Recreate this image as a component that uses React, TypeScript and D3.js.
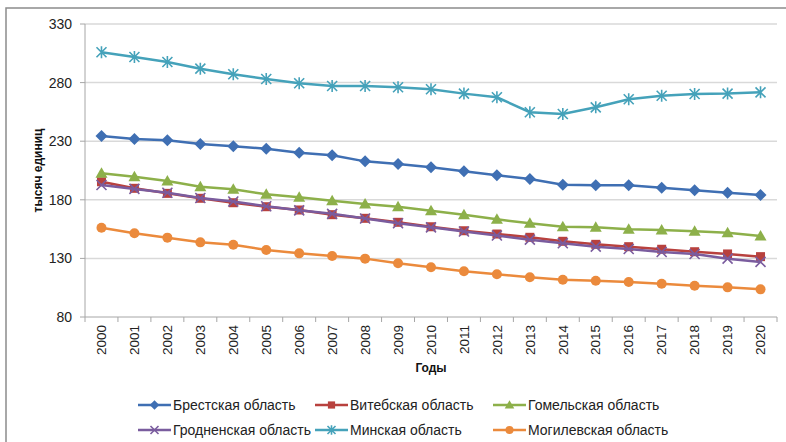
import * as React from 'react';
import * as d3 from 'd3';

const years = ['2000', '2001', '2002', '2003', '2004', '2005', '2006', '2007', '2008', '2009', '2010',
  '2011', '2012', '2013', '2014', '2015', '2016', '2017', '2018', '2019', '2020'];

const brest = [234.4, 231.9, 230.8, 227.6, 225.6, 223.6, 220.2, 218.0, 212.8, 210.6, 207.7,
  204.3, 200.9, 197.7, 192.9, 192.4, 192.4, 190.3, 188.1, 186.0, 184.1];
const vitebsk = [195.4, 189.8, 185.5, 181.3, 177.5, 174.1, 171.3, 167.3, 164.2, 160.8, 157.0,
  153.6, 150.8, 148.0, 144.6, 142.0, 140.0, 137.8, 135.7, 133.8, 131.5];
const gomel = [202.6, 199.7, 196.0, 191.2, 189.0, 184.7, 182.1, 179.2, 176.4, 174.1, 170.7,
  167.3, 163.4, 159.9, 157.0, 156.5, 154.8, 154.2, 153.1, 151.9, 149.1];
const grodno = [192.6, 189.3, 186.0, 181.5, 178.5, 174.5, 171.0, 168.0, 164.0, 160.0, 156.5,
  153.0, 149.5, 146.0, 142.9, 140.0, 138.0, 135.5, 133.8, 129.8, 127.0];
const minsk = [305.9, 301.8, 297.6, 291.9, 287.1, 283.1, 279.4, 277.1, 277.1, 276.0, 274.3,
  270.6, 267.5, 254.7, 253.2, 258.9, 265.8, 268.8, 270.3, 270.6, 271.7];
const mogilev = [156.2, 151.4, 147.7, 143.7, 141.7, 137.2, 134.3, 132.0, 129.8, 125.8, 122.4,
  119.0, 116.4, 113.9, 111.8, 111.0, 109.9, 108.4, 106.7, 105.3, 103.6];

const yTicks = [80, 130, 180, 230, 280, 330];

const series = [
  { name: 'Брестская область', values: brest, color: '#3F6FB3', marker: 'diamond' },
  { name: 'Витебская область', values: vitebsk, color: '#B8413E', marker: 'square' },
  { name: 'Гомельская область', values: gomel, color: '#8DB04A', marker: 'triangle' },
  { name: 'Гродненская область', values: grodno, color: '#7A5C9E', marker: 'x' },
  { name: 'Минская область', values: minsk, color: '#45A2BA', marker: 'star' },
  { name: 'Могилевская область', values: mogilev, color: '#EB8A3C', marker: 'circle' },
];

const W = 786;
const H = 442;
const left = 85;
const right = 777;
const top = 24;
const bottom = 317;
const font = '"Liberation Sans", Arial, sans-serif';

const Marker = ({ type, x, y, color, s = 1 }) => {
  if (type === 'diamond') {
    return <path d={`M${x},${y - 6 * s}L${x + 6 * s},${y}L${x},${y + 6 * s}L${x - 6 * s},${y}Z`} fill={color} />;
  }
  if (type === 'square') {
    return <rect x={x - 4.5 * s} y={y - 4.5 * s} width={9 * s} height={9 * s} fill={color} />;
  }
  if (type === 'triangle') {
    return <path d={`M${x},${y - 6 * s}L${x + 6 * s},${y + 4.5 * s}L${x - 6 * s},${y + 4.5 * s}Z`} fill={color} />;
  }
  if (type === 'circle') {
    return <circle cx={x} cy={y} r={5 * s} fill={color} />;
  }
  const r = 5 * s;
  if (type === 'x') {
    return (
      <path d={`M${x - r},${y - r}L${x + r},${y + r}M${x - r},${y + r}L${x + r},${y - r}`}
        stroke={color} strokeWidth={1.6} fill="none" />
    );
  }
  // star / asterisk
  return (
    <path d={`M${x - r},${y - r}L${x + r},${y + r}M${x - r},${y + r}L${x + r},${y - r}M${x},${y - r * 1.2}L${x},${y + r * 1.2}`}
      stroke={color} strokeWidth={1.6} fill="none" />
  );
};

const App = () => {
  const x = d3.scaleBand().domain(years).range([left, right]);
  const y = d3.scaleLinear().domain([80, 330]).range([bottom, top]);
  const cx = (yr: string) => (x(yr) as number) + x.bandwidth() / 2;

  const line = d3.line<number>()
    .x((d, i) => cx(years[i]))
    .y((d) => y(d));

  // legend grid: three columns, two rows
  const legendCols = [138, 315, 493];
  const legendRows = [405, 430];

  return (
    <svg width={W} height={H} style={{ position: 'absolute', left: 0, top: 0, background: '#fff' }}>
      <rect x={6} y={8} width={W + 20} height={H + 20} fill="#fff" stroke="#8c8c8c" strokeWidth={1.5} />

      {/* gridlines */}
      {yTicks.filter((t) => t !== 80).map((t) => (
        <line key={t} x1={left} x2={right} y1={y(t)} y2={y(t)} stroke="#d9d9d9" strokeWidth={1.5} />
      ))}

      {/* axes */}
      <line x1={left} x2={left} y1={top} y2={bottom} stroke="#a6a6a6" strokeWidth={1} />
      <line x1={left} x2={right} y1={bottom} y2={bottom} stroke="#a6a6a6" strokeWidth={1} />
      {yTicks.map((t) => (
        <line key={t} x1={left - 5} x2={left} y1={y(t)} y2={y(t)} stroke="#a6a6a6" />
      ))}
      {d3.range(years.length + 1).map((i) => {
        const xx = left + i * x.bandwidth();
        return <line key={i} x1={xx} x2={xx} y1={bottom} y2={bottom + 5} stroke="#a6a6a6" />;
      })}

      {/* y tick labels */}
      {yTicks.map((t) => (
        <text key={t} x={72} y={y(t)} dy="0.35em" textAnchor="end"
          fontFamily={font} fontSize={14} fill="#222">{t}</text>
      ))}

      {/* x tick labels */}
      {years.map((yr) => (
        <text key={yr} transform={`translate(${cx(yr)},${bottom + 8}) rotate(-90)`}
          textAnchor="end" dy="0.35em" fontFamily={font} fontSize={13.5} fill="#222">{yr}</text>
      ))}

      {/* axis titles */}
      <text transform={`translate(38,${(top + bottom) / 2}) rotate(-90)`} textAnchor="middle"
        dy="0.35em" fontFamily={font} fontSize={12} fontWeight="bold" fill="#111">тысяч единиц</text>
      <text x={(left + right) / 2} y={368} textAnchor="middle" dy="0.35em"
        fontFamily={font} fontSize={12} fontWeight="bold" fill="#111">Годы</text>

      {/* series */}
      {series.map((s) => (
        <g key={s.name}>
          <path d={line(s.values) as string} fill="none" stroke={s.color} strokeWidth={2.5} />
          {s.values.map((v, i) => (
            <Marker key={i} type={s.marker} x={cx(years[i])} y={y(v)} color={s.color} />
          ))}
        </g>
      ))}

      {/* legend */}
      {series.map((s, i) => {
        const lx = legendCols[i % 3];
        const ly = legendRows[Math.floor(i / 3)];
        return (
          <g key={s.name}>
            <line x1={lx} x2={lx + 33} y1={ly} y2={ly} stroke={s.color} strokeWidth={2.5} />
            <Marker type={s.marker} x={lx + 16.5} y={ly} color={s.color} s={0.8} />
            <text x={lx + 35} y={ly} dy="0.35em" fontFamily={font} fontSize={14} fill="#222">{s.name}</text>
          </g>
        );
      })}
    </svg>
  );
};

export default App;
